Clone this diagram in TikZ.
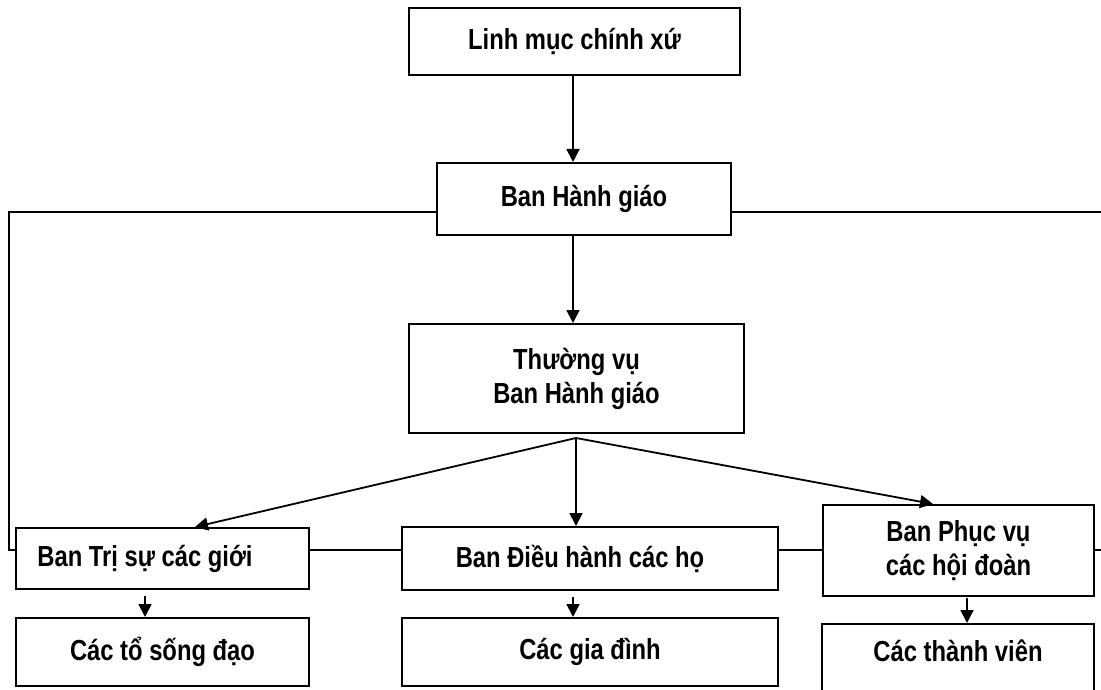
\documentclass[tikz,border=0pt]{standalone}
\usepackage{fontspec}
\setmainfont{Liberation Sans}[FakeStretch=0.82]
\usetikzlibrary{positioning,arrows.meta,calc}
\tikzset{
  >={Triangle[length=13pt,width=13pt]},
  unit/.style={rectangle,draw,line width=2pt,align=center,inner sep=0pt,font=\fontsize{29}{34}\selectfont\bfseries},
  link/.style={line width=1.8pt},
  flow/.style={->,line width=1.8pt}
}
\begin{document}
\begin{tikzpicture}[x=1pt,y=-1pt]
    \useasboundingbox (0,0) rectangle (1101,690);
    % Cac ban
    \node[unit,minimum width=331,minimum height=67] (lmcx) at (574.5,41.5) {Linh mục chính xứ};
    \node[unit,minimum width=294,minimum height=72] (bhg) at (584,199) {Ban Hành giáo};
    \node[unit,minimum width=335,minimum height=109] (tvu) at (576.5,378.5) {Thường vụ\\Ban Hành giáo};
    \node[unit,minimum width=293,minimum height=61] (btsu) at (162.5,558.5) {Ban Trị sự các giới\hspace*{35pt}};
    \node[unit,minimum width=376,minimum height=63] (bdh) at (590,558.5) {Ban Điều hành các họ\hspace*{20pt}};
    \node[unit,minimum width=271,minimum height=91] (bpv) at (958.5,550.5) {Ban Phục vụ\\các hội đoàn};
    \node[unit,minimum width=293,minimum height=68] (ctsd) at (162.5,652) {Các tổ sống đạo};
    \node[unit,minimum width=376,minimum height=68] (cgd) at (590,652) {Các gia đình};
    \node[unit,minimum width=272,anchor=north,inner ysep=16pt,text height=21pt,text depth=50pt] (ctv) at (958,623) {Các thành viên};

    % Duong noi
    \coordinate (fan) at (576,438);
    \coordinate (ltop) at (9,212);
    \coordinate (rtop) at (1104,212);
    \coordinate (lbot) at (9,550);
    \coordinate (rbot) at (1104,550);

    \draw[flow] (lmcx.south -| 573,0) -- (bhg.north -| 573,0);
    \draw[flow] (bhg.south -| 573,0) -- (tvu.north -| 573,0);
    \draw[link] (ltop -| bhg.west) -- (ltop) -- (lbot) -- (lbot -| btsu.west);
    \draw[link] (rtop -| bhg.east) -- (rtop) -- (rbot) -- (rbot -| bpv.east);
    \draw[link] (lbot -| btsu.east) -- (lbot -| bdh.west);
    \draw[link] (lbot -| bdh.east) -- (lbot -| bpv.west);

    \draw[flow] (fan) -- (195,0 |- btsu.north);
    \draw[flow] (fan) -- (fan |- bdh.north);
    \draw[flow] (fan) -- (933,0 |- bpv.north);

    \draw[flow,shorten <=6pt] (btsu.south -| 145,0) -- (ctsd.north -| 145,0);
    \draw[flow,shorten <=6pt] (bdh.south -| 573,0) -- (cgd.north -| 573,0);
    \draw[flow,shorten <=1pt] (bpv.south -| 967,0) -- (ctv.north -| 967,0);
\end{tikzpicture}
\end{document}
